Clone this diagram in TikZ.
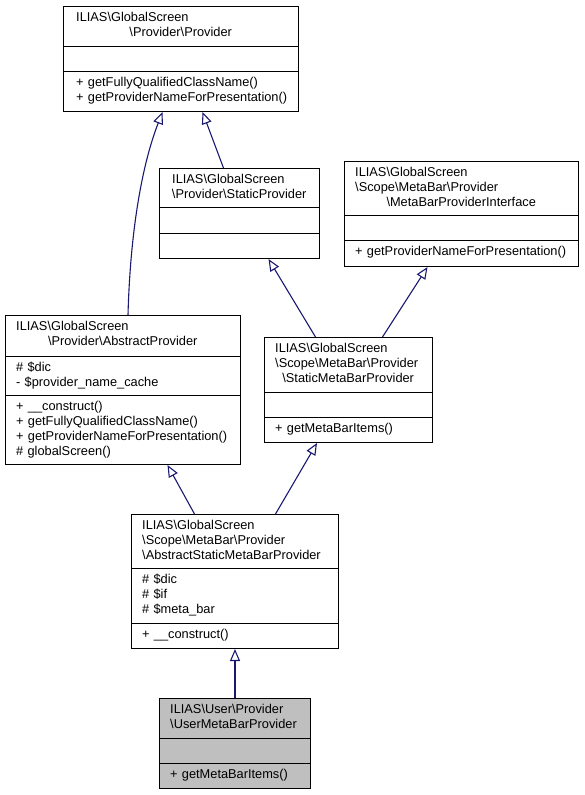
\documentclass[tikz,border=0pt]{standalone}
\usepackage{fontspec}
\setmainfont{Liberation Sans}
\usetikzlibrary{arrows.meta}
\definecolor{midnight}{RGB}{25,25,112}
\definecolor{grey75}{RGB}{191,191,191}

\begin{document}
\begin{tikzpicture}[x=1pt, y=-1pt,
  cls/.style={draw, line width=1pt, inner sep=0pt, anchor=north west},
  txt/.style={inner sep=0pt, anchor=base west, align=left, font=\fontsize{12.8}{15}\selectfont},
  genline/.style={draw=midnight, line width=1.1pt, -{Triangle[open, length=12pt, width=10pt]}}]
\useasboundingbox (0,0) rectangle (584,795);

% Provider
\node [cls, minimum width=235pt, minimum height=105pt] (provider) at (63,6) {};
\draw (provider.west |- 0,46) -- (provider.east |- 0,46);
\draw (provider.west |- 0,71) -- (provider.east |- 0,71);
\node [txt, text width=209pt] (providerT) at (76,21) {ILIAS\textbackslash GlobalScreen\\\makebox[\linewidth]{\textbackslash Provider\textbackslash Provider}};
\node [txt, text width=230pt] (providerM) at (76,86) {+ getFullyQualifiedClassName()\\+ getProviderNameForPresentation()};

% StaticProvider
\node [cls, minimum width=160pt, minimum height=90pt] (staticprov) at (159,168) {};
\draw (staticprov.west |- 0,207) -- (staticprov.east |- 0,207);
\draw (staticprov.west |- 0,233) -- (staticprov.east |- 0,233);
\node [txt, text width=134pt] (staticprovT) at (172,183) {ILIAS\textbackslash GlobalScreen\\\makebox[\linewidth]{\textbackslash Provider\textbackslash StaticProvider}};

% MetaBarProviderInterface
\node [cls, minimum width=234pt, minimum height=105pt] (mbinterface) at (344,161) {};
\draw (mbinterface.west |- 0,215) -- (mbinterface.east |- 0,215);
\draw (mbinterface.west |- 0,240) -- (mbinterface.east |- 0,240);
\node [txt, text width=212pt] (mbinterfaceT) at (355,176) {ILIAS\textbackslash GlobalScreen\\\textbackslash Scope\textbackslash MetaBar\textbackslash Provider\\\makebox[\linewidth]{\textbackslash MetaBarProviderInterface}};
\node [txt, text width=230pt] (mbinterfaceM) at (355,255) {+ getProviderNameForPresentation()};

% StaticMetaBarProvider
\node [cls, minimum width=168pt, minimum height=105pt] (staticmb) at (264,337) {};
\draw (staticmb.west |- 0,392) -- (staticmb.east |- 0,392);
\draw (staticmb.west |- 0,417) -- (staticmb.east |- 0,417);
\node [txt, text width=146pt] (staticmbT) at (275,352) {ILIAS\textbackslash GlobalScreen\\\textbackslash Scope\textbackslash MetaBar\textbackslash Provider\\\makebox[\linewidth]{\textbackslash StaticMetaBarProvider}};
\node [txt, text width=160pt] (staticmbM) at (275,432) {+ getMetaBarItems()};

% AbstractProvider
\node [cls, minimum width=235pt, minimum height=149pt] (absprov) at (5,315) {};
\draw (absprov.west |- 0,356) -- (absprov.east |- 0,356);
\draw (absprov.west |- 0,395) -- (absprov.east |- 0,395);
\node [txt, text width=213pt] (absprovT) at (16,330) {ILIAS\textbackslash GlobalScreen\\\makebox[\linewidth]{\textbackslash Provider\textbackslash AbstractProvider}};
\node [txt, text width=230pt] (absprovA) at (16,371) {\# \$dic\\- \$provider\_name\_cache};
\node [txt, text width=230pt] (absprovM) at (16,410) {+ \_\_construct()\\+ getFullyQualifiedClassName()\\+ getProviderNameForPresentation()\\\# globalScreen()};

% AbstractStaticMetaBarProvider
\node [cls, minimum width=207pt, minimum height=134pt] (absstaticmb) at (131,514) {};
\draw (absstaticmb.west |- 0,568) -- (absstaticmb.east |- 0,568);
\draw (absstaticmb.west |- 0,623) -- (absstaticmb.east |- 0,623);
\node [txt, text width=200pt] (absstaticmbT) at (142,529) {ILIAS\textbackslash GlobalScreen\\\textbackslash Scope\textbackslash MetaBar\textbackslash Provider\\\textbackslash AbstractStaticMetaBarProvider};
\node [txt, text width=200pt] (absstaticmbA) at (142,583) {\# \$dic\\\# \$if\\\# \$meta\_bar};
\node [txt, text width=200pt] (absstaticmbM) at (142,638) {+ \_\_construct()};

% UserMetaBarProvider
\node [cls, fill=grey75, minimum width=151pt, minimum height=90pt] (usermb) at (159,698) {};
\draw (usermb.west |- 0,738) -- (usermb.east |- 0,738);
\draw (usermb.west |- 0,763) -- (usermb.east |- 0,763);
\node [txt, text width=140pt] (usermbT) at (170,713) {ILIAS\textbackslash User\textbackslash Provider\\\textbackslash UserMetaBarProvider};
\node [txt, text width=140pt] (usermbM) at (170,778) {+ getMetaBarItems()};

% inheritance
\draw [genline] ([xshift=5pt]absprov.north) .. controls (130,240) and (140,170) .. ([xshift=-18.5pt]provider.south);
\draw [genline] ([xshift=-16pt]staticprov.north) -- ([xshift=21.5pt]provider.south);
\draw [genline] ([xshift=-33pt]staticmb.north) -- ([xshift=29pt]staticprov.south);
\draw [genline] ([xshift=34pt]staticmb.north) -- ([xshift=-34pt]mbinterface.south);
\draw [genline] ([xshift=-40.5pt]absstaticmb.north) -- ([xshift=44.5pt]absprov.south);
\draw [genline] ([xshift=40.5pt]absstaticmb.north) -- ([xshift=-31.5pt]staticmb.south);
\draw [genline] (usermb.north) -- (absstaticmb.south);
\end{tikzpicture}
\end{document}
